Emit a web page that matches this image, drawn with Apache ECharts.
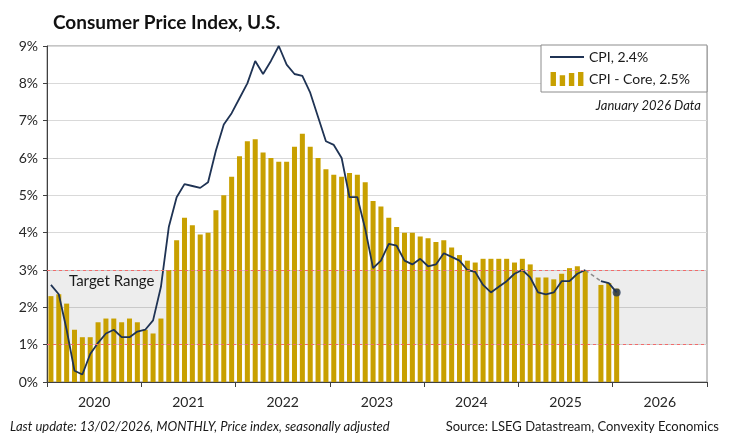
<!DOCTYPE html>
<html>
<head>
<meta charset="utf-8">
<script src="https://cdn.jsdelivr.net/npm/echarts@6/dist/echarts.min.js"></script>
<style>
  html, body { margin: 0; padding: 0; background: #fff; }
  #main { width: 733px; height: 438px; }
</style>
</head>
<body>
<div id="main"></div>
<script>
  // x axis: months Jan 2020 .. Dec 2026, years shown on a second axis
  const years = ['2020', '2021', '2022', '2023', '2024', '2025', '2026'];
  const months = [];
  years.forEach(function (y) {
    for (let m = 1; m <= 12; m++) months.push(y + '-' + (m < 10 ? '0' + m : m));
  });

  // CPI, % y/y (line) - Jan 2020 .. Jan 2026, Oct 2025 missing
  const cpi = [
    2.6, 2.35, 1.4, 0.3, 0.2, 0.75, 1.05, 1.3, 1.4, 1.2, 1.2, 1.35,
    1.4, 1.65, 2.55, 4.15, 4.95, 5.3, 5.25, 5.2, 5.35, 6.2, 6.9, 7.2,
    7.6, 8.0, 8.6, 8.25, 8.6, 9.0, 8.5, 8.25, 8.2, 7.75, 7.1, 6.45,
    6.35, 6.0, 4.95, 4.95, 4.1, 3.05, 3.25, 3.7, 3.65, 3.25, 3.15, 3.3,
    3.1, 3.15, 3.45, 3.35, 3.25, 3.0, 2.95, 2.6, 2.4, 2.55, 2.7, 2.9,
    3.0, 2.8, 2.4, 2.35, 2.4, 2.7, 2.7, 2.9, 3.0, null, 2.7, 2.65,
    2.4
  ];
  // CPI - Core, % y/y (bars)
  const core = [
    2.3, 2.35, 2.1, 1.4, 1.2, 1.2, 1.6, 1.7, 1.7, 1.6, 1.7, 1.6,
    1.4, 1.3, 1.7, 3.0, 3.8, 4.4, 4.2, 3.95, 4.0, 4.6, 5.0, 5.5,
    6.05, 6.45, 6.5, 6.15, 6.0, 5.9, 5.9, 6.3, 6.65, 6.3, 6.0, 5.7,
    5.55, 5.5, 5.6, 5.55, 5.35, 4.85, 4.7, 4.4, 4.15, 4.0, 4.0, 3.9,
    3.85, 3.75, 3.8, 3.6, 3.4, 3.25, 3.2, 3.3, 3.3, 3.3, 3.3, 3.2,
    3.3, 3.15, 2.8, 2.8, 2.75, 2.9, 3.05, 3.1, 3.0, null, 2.6, 2.65,
    2.5
  ];
  const targetRange = [1, 3];

  const cpiName = 'CPI, 2.4%';
  const coreName = 'CPI - Core, 2.5%';

  // dashed bridge over missing months of the CPI line
  const cpiGap = cpi.map(function (v, i) {
    if (v !== null) {
      const prevNull = i > 0 && cpi[i - 1] === null;
      const nextNull = i < cpi.length - 1 && cpi[i + 1] === null;
      return (prevNull || nextNull) ? v : null;
    }
    return null;
  });
  const lastIdx = cpi.length - 1;

  const font = 'Lato, "Open Sans", sans-serif';
  const lineIcon = 'path://M0,0 M0,6.1h34v1.8h-34z M34,14';
  const barIcon = 'path://M0,0h5v13h-5z M8.5,3h5v10h-5z M17,1h5v12h-5z M25.5,0h5v13h-5z';

  const chart = echarts.init(document.getElementById('main'));
  chart.setOption({
    animation: false,
    textStyle: { fontFamily: font },
    title: {
      text: 'Consumer Price Index, U.S.',
      left: 48,
      top: 8,
      textStyle: { fontSize: 19, fontWeight: 'bold', color: '#111', fontFamily: font }
    },
    legend: {
      orient: 'vertical',
      left: 545,
      top: 45,
      itemWidth: 34,
      itemHeight: 14,
      itemGap: 8,
      textStyle: { fontSize: 14, color: '#1a1a1a', fontFamily: font },
      data: [{ name: cpiName, icon: lineIcon }, { name: coreName, icon: barIcon }]
    },
    grid: {
      left: 47, right: 26, top: 46, bottom: 56,
      show: true, borderColor: '#8c8c8c', borderWidth: 1
    },
    xAxis: [
      {
        type: 'category',
        data: months,
        position: 'bottom',
        axisLine: { lineStyle: { color: '#404040' } },
        axisTick: { show: false },
        axisLabel: { show: false },
        splitLine: { show: false }
      },
      {
        type: 'category',
        data: years,
        position: 'bottom',
        axisLine: { show: false },
        axisTick: { show: true, length: 5, interval: 0, lineStyle: { color: '#404040' } },
        axisLabel: { fontSize: 14, color: '#262626', margin: 13, interval: 0 },
        splitLine: { show: false }
      }
    ],
    yAxis: {
      type: 'value',
      min: 0,
      max: 9,
      interval: 1,
      axisLine: { show: true, lineStyle: { color: '#404040' } },
      axisTick: { show: true, length: 4, lineStyle: { color: '#404040' } },
      axisLabel: { formatter: '{value}%', fontSize: 14, color: '#262626', margin: 9 },
      splitLine: { lineStyle: { color: '#d9d9d9' } }
    },
    series: [
      {
        name: coreName,
        type: 'bar',
        xAxisIndex: 0,
        data: core,
        barWidth: '64%',
        itemStyle: { color: '#C8A000' },
        markArea: {
          silent: true,
          itemStyle: { color: 'rgba(0,0,0,0.07)' },
          label: {
            show: true,
            position: [22, 4],
            fontSize: 15,
            color: '#1a1a1a',
            fontFamily: font
          },
          data: [[{ yAxis: targetRange[0], name: 'Target Range' }, { yAxis: targetRange[1] }]]
        },
        markLine: {
          silent: true,
          symbol: 'none',
          label: { show: false },
          lineStyle: { color: '#f26b6b', type: [3, 3], width: 1 },
          data: targetRange.map(function (v) { return { yAxis: v }; })
        },
        z: 2
      },
      {
        name: cpiName,
        type: 'line',
        xAxisIndex: 0,
        data: cpi,
        symbol: 'none',
        connectNulls: false,
        lineStyle: { color: '#1f3354', width: 1.8 },
        itemStyle: { color: '#1f3354' },
        z: 4
      },
      {
        name: 'gap',
        type: 'line',
        xAxisIndex: 0,
        data: cpiGap,
        symbol: 'none',
        connectNulls: true,
        lineStyle: { color: '#8c8c8c', width: 1.5, type: [4, 3] },
        z: 3
      },
      {
        name: 'last',
        type: 'scatter',
        xAxisIndex: 0,
        data: [[lastIdx, cpi[lastIdx]]],
        symbol: 'circle',
        symbolSize: 8,
        itemStyle: { color: '#1f3354' },
        z: 5
      }
    ],
    graphic: [
      {
        type: 'rect',
        z: 3,
        shape: { x: 541, y: 45, width: 166, height: 47 },
        style: { fill: '#fff', stroke: '#8c8c8c', lineWidth: 1 }
      },
      {
        type: 'text',
        right: 32,
        top: 99,
        z: 3,
        style: { text: 'January 2026 Data', fill: '#1a1a1a', font: 'italic 13px ' + font }
      },
      {
        type: 'text',
        left: 10,
        top: 420,
        style: { text: 'Last update: 13/02/2026, MONTHLY, Price index, seasonally adjusted', fill: '#1a1a1a', font: 'italic 13px ' + font }
      },
      {
        type: 'text',
        right: 14,
        top: 420,
        style: { text: 'Source: LSEG Datastream, Convexity Economics', fill: '#1a1a1a', font: '13px ' + font }
      }
    ]
  });
</script>
</body>
</html>
